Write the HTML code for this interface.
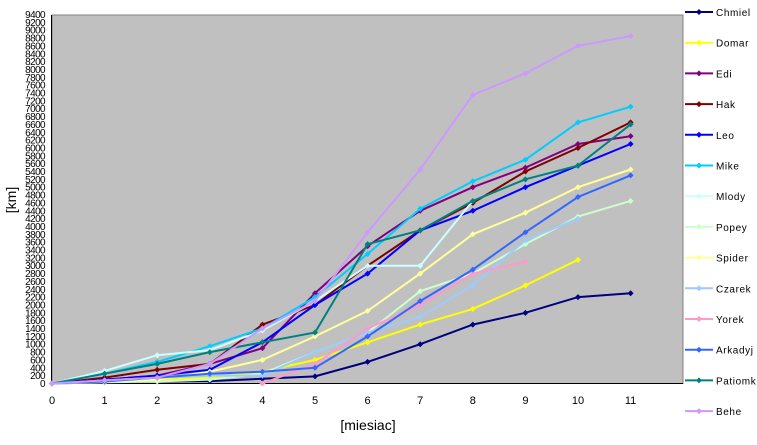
<!DOCTYPE html>
<html><head><meta charset="utf-8"><style>
body{margin:0;background:#fff;width:757px;height:440px;overflow:hidden}
svg{font-family:"Liberation Sans",sans-serif}
</style></head><body>
<svg id="s" width="757" height="440" xmlns="http://www.w3.org/2000/svg">
<rect x="52" y="15" width="631" height="368.5" fill="#c0c0c0" stroke="#808080" stroke-width="1"/>
<line x1="52" y1="383.5" x2="683" y2="383.5" stroke="#000"/>
<line x1="51.5" y1="15" x2="51.5" y2="384" stroke="#000"/>
<g id="yt" font-size="10" text-anchor="end" letter-spacing="-0.6">
<text x="45" y="387">0</text><text x="45" y="379.1">200</text><text x="45" y="371.3">400</text><text x="45" y="363.4">600</text><text x="45" y="355.6">800</text><text x="45" y="347.7">1000</text><text x="45" y="339.9">1200</text><text x="45" y="332">1400</text><text x="45" y="324.2">1600</text><text x="45" y="316.3">1800</text><text x="45" y="308.5">2000</text><text x="45" y="300.6">2200</text><text x="45" y="292.8">2400</text><text x="45" y="284.9">2600</text><text x="45" y="277.1">2800</text><text x="45" y="269.2">3000</text><text x="45" y="261.4">3200</text><text x="45" y="253.5">3400</text><text x="45" y="245.7">3600</text><text x="45" y="237.8">3800</text><text x="45" y="230">4000</text><text x="45" y="222.1">4200</text><text x="45" y="214.3">4400</text><text x="45" y="206.4">4600</text><text x="45" y="198.6">4800</text><text x="45" y="190.7">5000</text><text x="45" y="182.9">5200</text><text x="45" y="175">5400</text><text x="45" y="167.2">5600</text><text x="45" y="159.3">5800</text><text x="45" y="151.5">6000</text><text x="45" y="143.6">6200</text><text x="45" y="135.8">6400</text><text x="45" y="127.9">6600</text><text x="45" y="120.1">6800</text><text x="45" y="112.2">7000</text><text x="45" y="104.4">7200</text><text x="45" y="96.5">7400</text><text x="45" y="88.7">7600</text><text x="45" y="80.8">7800</text><text x="45" y="73">8000</text><text x="45" y="65.1">8200</text><text x="45" y="57.3">8400</text><text x="45" y="49.4">8600</text><text x="45" y="41.6">8800</text><text x="45" y="33.7">9000</text><text x="45" y="25.9">9200</text><text x="45" y="18">9400</text>
</g>
<g font-size="11" text-anchor="middle">
<text x="52" y="404">0</text><text x="104.6" y="404">1</text><text x="157.2" y="404">2</text><text x="209.8" y="404">3</text><text x="262.4" y="404">4</text><text x="315" y="404">5</text><text x="367.6" y="404">6</text><text x="420.2" y="404">7</text><text x="472.8" y="404">8</text><text x="525.4" y="404">9</text><text x="578" y="404">10</text><text x="630.6" y="404">11</text>
<text x="368" y="430" font-size="14">[miesiac]</text>
</g>
<text transform="translate(16,200) rotate(-90)" font-size="14" text-anchor="middle">[km]</text>
<g id="series"></g>
<g font-size="10" letter-spacing="0.6" id="leg">
<text x="716" y="16">Chmiel</text><text x="716" y="46.7">Domar</text><text x="716" y="77.4">Edi</text><text x="716" y="108.1">Hak</text><text x="716" y="138.8">Leo</text><text x="716" y="169.5">Mike</text><text x="716" y="200.2">Mlody</text><text x="716" y="230.9">Popey</text><text x="716" y="261.6">Spider</text><text x="716" y="292.3">Czarek</text><text x="716" y="323">Yorek</text><text x="716" y="353.7">Arkadyj</text><text x="716" y="384.4">Patiomki</text><text x="716" y="415.1">Behe</text>
</g>
</svg>
<script>
var S=[
["#000080",0,[0,30,50,60,120,180,550,1000,1500,1800,2200,2300]],
["#FFFF00",0,[0,40,90,150,300,600,1050,1500,1900,2500,3150]],
["#800080",0,[0,100,200,500,900,2300,3500,4400,5000,5500,6100,6300]],
["#800000",0,[0,150,350,500,1500,2000,3000,3900,4600,5400,6000,6650]],
["#0000FF",0,[0,100,200,350,1050,2000,2800,3900,4400,5000,5550,6100]],
["#00CCFF",0,[0,250,550,950,1400,2200,3300,4450,5150,5700,6650,7050]],
["#CCFFFF",0,[0,320,720,850,1350,2100,3000,3000,4650]],
["#CCFFCC",0,[0,30,50,100,250,800,1300,2350,2800,3550,4250,4650]],
["#FFFF99",0,[0,50,100,300,600,1200,1850,2800,3800,4350,5000,5450]],
["#99CCFF",0,[0,80,150,200,200,800,1300,1700,2500,3650,4200]],
["#FF99CC",4,[0,500,1400,2000,2800,3100]],
["#3366FF",0,[0,50,150,250,300,400,1200,2100,2900,3850,4750,5300]],
["#008080",0,[0,250,500,800,1050,1300,3550,3900,4650,5200,5550,6600]],
["#CC99FF",0,[0,80,150,500,1400,2100,3850,5450,7350,7900,8600,8850]]];
var g=document.getElementById('series'),h="";
function X(i){return 52+i*52.6}function Y(v){return 383.5-v*0.03926}
function d(x,y){return "M"+(x-3)+" "+y+"L"+x+" "+(y-3)+"L"+(x+3)+" "+y+"L"+x+" "+(y+3)+"Z"}
S.forEach(function(s,k){var p=s[2].map(function(v,i){return X(i+s[1]).toFixed(1)+","+Y(v).toFixed(1)}).join(" ");
h+='<polyline points="'+p+'" fill="none" stroke="'+s[0]+'" stroke-width="2"/>';
s[2].forEach(function(v,i){h+='<path d="'+d(X(i+s[1]),Y(v))+'" fill="'+s[0]+'"/>'});
var ly=12+k*30.7;h+='<line x1="685" y1="'+ly+'" x2="713" y2="'+ly+'" stroke="'+s[0]+'" stroke-width="2"/><path d="'+d(699,ly)+'" fill="'+s[0]+'"/>';});
g.innerHTML=h;
</script>
</body></html>
